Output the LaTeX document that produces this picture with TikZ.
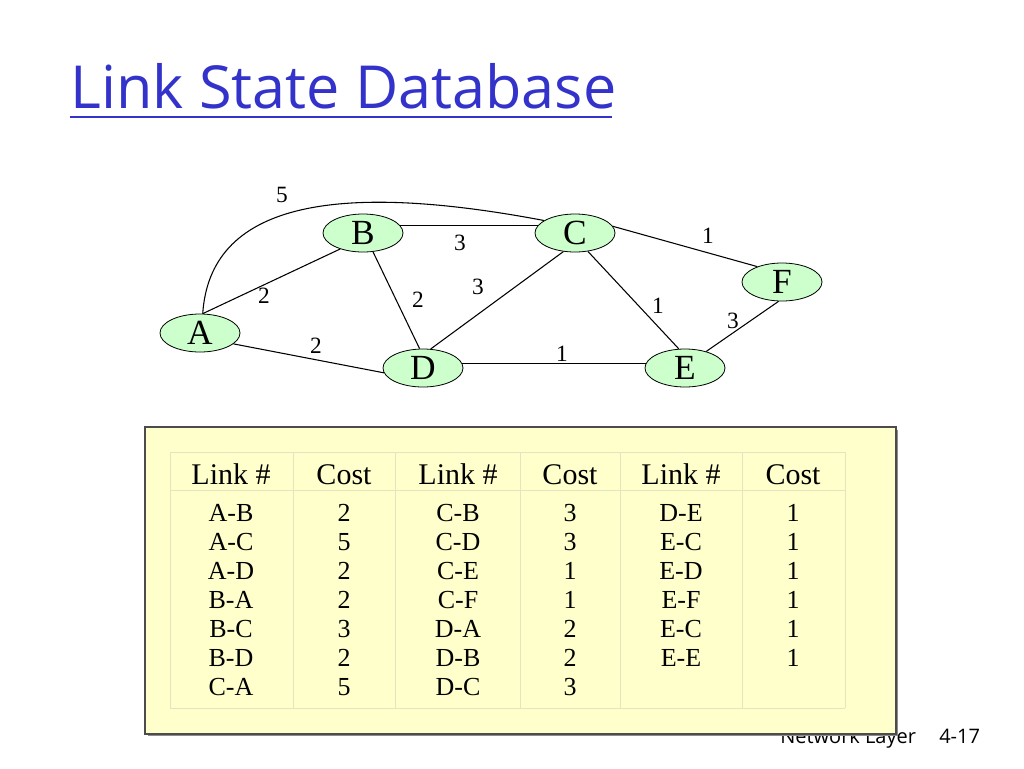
\documentclass[tikz,border=0pt]{standalone}
\usepackage{fontspec}
\setmainfont{Liberation Serif}
\newfontfamily\titlefont{Open Sans}
\usetikzlibrary{shapes.geometric}
\definecolor{nodegreen}{RGB}{204,255,204}
\definecolor{boxyellow}{RGB}{255,255,204}
\definecolor{gridcol}{RGB}{228,228,190}
\definecolor{titleblue}{RGB}{51,51,204}
\begin{document}
\begin{tikzpicture}[x=0.75pt,y=-0.75pt,
  router/.style={ellipse,draw=black,line width=0.6pt,fill=nodegreen,minimum width=60pt,minimum height=28.5pt,inner sep=0pt,font=\fontsize{26.5}{26.5}\selectfont},
  link/.style={draw=black,line width=0.8pt},
  cost/.style={font=\fontsize{17.5}{17.5}\selectfont,inner sep=0pt},
  hdr/.style={font=\fontsize{22.5}{22.5}\selectfont,inner sep=0pt,anchor=base},
  cell/.style={font=\fontsize{19.5}{19.5}\selectfont,inner sep=0pt,anchor=base},
  grid/.style={draw=gridcol,line width=0.5pt}]
\useasboundingbox (0,0) rectangle (1024,768);
\fill[white] (0,0) rectangle (1024,768);
% title
\node[anchor=base west,inner sep=0pt,text=titleblue,font=\titlefont\fontsize{44.5}{44.5}\selectfont] (title) at (70,108) {Link State Database};
\draw[titleblue,line width=1.6pt] (70,117) -- (612,117);
% footer
\node[anchor=base west,inner sep=0pt,font=\titlefont\fontsize{15}{15}\selectfont] (footer) at (780,743) {Network Layer};
\node[anchor=base west,inner sep=0pt,font=\titlefont\fontsize{15}{15}\selectfont] (page) at (939,743) {4-17};
% graph
\node[router] (A) at (200,333) {A};
\node[router] (B) at (363,233) {B};
\node[router] (C) at (575,233) {C};
\node[router] (D) at (423,368) {D};
\node[router] (E) at (685,368) {E};
\node[router] (F) at (782,282) {F};
\draw[link] (A.82) -- (B.215);
\draw[link] (A.-18) -- (D.187);
\draw[link] (B.-62) -- (D.100);
\draw[link] (B.12) -- (C.168);
\draw[link] (C.-122) -- (D.68);
\draw[link] (C.-55) -- (E.108);
\draw[link] (C.10) -- (F.148);
\draw[link] (D.6) -- (E.174);
\draw[link] (E.38) -- (F.-100);
\draw[link] (A.82) .. controls (210,205) and (330,180) .. (C.158);
\node[cost] (l5) at (282,195) {5};
\node[cost] (lbc) at (460,243) {3};
\node[cost] (lcf) at (708,236) {1};
\node[cost] (lab) at (264,296) {2};
\node[cost] (lbd) at (418,300) {2};
\node[cost] (lcd) at (478,287) {3};
\node[cost] (lce) at (658,306) {1};
\node[cost] (lef) at (733,321) {3};
\node[cost] (lad) at (316,346) {2};
\node[cost] (lde) at (562,354) {1};
% table box
\fill[black!45] (147.5,429.5) rectangle (897.5,735.5);
\draw[fill=boxyellow,draw=black!70,line width=1pt] (145,427) rectangle (896,734);
\foreach \x in {170,293,395,520,620,742,845} \draw[grid] (\x,452) -- (\x,708);
\draw[grid] (170,452) -- (845,452);
\draw[grid] (170,490) -- (845,490);
\draw[grid] (170,708) -- (845,708);
% headers
\foreach \x/\t in {231/Link \#,344/Cost,458/Link \#,570/Cost,681/Link \#,793/Cost}
  \node[hdr] at (\x,484) {\t};
% rows
\foreach \r [count=\i] in {{A-B,2,C-B,3,D-E,1},{A-C,5,C-D,3,E-C,1},{A-D,2,C-E,1,E-D,1},{B-A,2,C-F,1,E-F,1},{B-C,3,D-A,2,E-C,1},{B-D,2,D-B,2,E-E,1}}{
  \foreach \t [count=\j] in \r {
    \pgfmathsetmacro{\cx}{{231,344,458,570,681,793}[\j-1]}
    \node[cell] at (\cx,{492+\i*29}) {\t};
  }
}
\node[cell] at (231,695) {C-A};
\node[cell] at (344,695) {5};
\node[cell] at (458,695) {D-C};
\node[cell] at (570,695) {3};
\end{tikzpicture}
\end{document}
